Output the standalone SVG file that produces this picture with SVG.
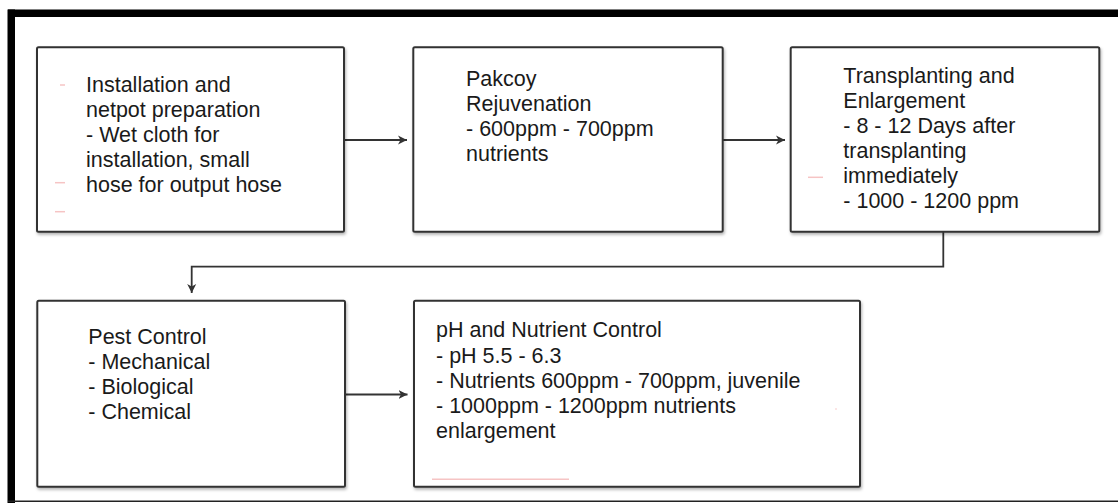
<svg xmlns="http://www.w3.org/2000/svg" width="1118" height="503" viewBox="0 0 1118 503">
  <style>
    .box { fill: #ffffff; stroke: #333333; stroke-width: 2; filter: url(#shadow); }
    .txt { font-family: "Liberation Sans", Arial, sans-serif; font-size: 21.5px; fill: #1a1a1a; }
    .conn { fill: none; stroke: #333333; stroke-width: 1.8; }
    .pink { stroke: #f6c4c4; stroke-width: 1.5; fill: none; }
  </style>
  <defs>
    <filter id="shadow" x="-5%" y="-5%" width="110%" height="115%">
      <feDropShadow dx="1" dy="2" stdDeviation="1.5" flood-color="#000000" flood-opacity="0.3"/>
    </filter>
    <marker id="arrow" markerWidth="10" markerHeight="10" refX="9" refY="5" orient="auto" markerUnits="userSpaceOnUse">
      <path d="M0,0.5 L9,5 L0,9.5 L2.5,5 Z" fill="#333333"/>
    </marker>
  </defs>
  <rect width="1118" height="503" fill="#ffffff"/>

  <g id="frame">
    <rect x="8" y="9.5" width="1110" height="7.5" fill="#000000"/>
    <rect x="7.5" y="9.5" width="7.5" height="493.5" fill="#000000"/>
    <line x1="8" y1="501.2" x2="1118" y2="501.2" stroke="#222222" stroke-width="1.6"/>
  </g>

  <g id="connectors">
    <line class="conn" x1="345" y1="140" x2="407" y2="140" marker-end="url(#arrow)"/>
    <line class="conn" x1="723" y1="140" x2="785" y2="140" marker-end="url(#arrow)"/>
    <polyline class="conn" points="943.3,232 943.3,266.7 191.7,266.7 191.7,293" marker-end="url(#arrow)"/>
    <line class="conn" x1="345" y1="394.5" x2="407.5" y2="394.5" marker-end="url(#arrow)"/>
  </g>

  <g id="node-installation">
    <rect class="box" x="37" y="47.3" width="307" height="184.5" rx="1.5"/>
    <line class="pink" x1="60" y1="85" x2="65" y2="85"/>
    <line class="pink" x1="55" y1="182.7" x2="65" y2="182.7"/>
    <line class="pink" x1="55" y1="211.7" x2="65" y2="211.7"/>
    <text class="txt" x="86" y="91.7">
      <tspan x="86" y="91.7">Installation and</tspan>
      <tspan x="86" y="116.7">netpot preparation</tspan>
      <tspan x="86" y="141.7">- Wet cloth for</tspan>
      <tspan x="86" y="166.7">installation, small</tspan>
      <tspan x="86" y="191.7">hose for output hose</tspan>
    </text>
  </g>

  <g id="node-rejuvenation">
    <rect class="box" x="413.3" y="47.3" width="309.4" height="184.5" rx="1.5"/>
    <text class="txt">
      <tspan x="466" y="86">Pakcoy</tspan>
      <tspan x="466" y="111">Rejuvenation</tspan>
      <tspan x="466" y="136">- 600ppm - 700ppm</tspan>
      <tspan x="466" y="161">nutrients</tspan>
    </text>
  </g>

  <g id="node-transplanting">
    <rect class="box" x="790.7" y="47.3" width="308.6" height="184.5" rx="1.5"/>
    <line class="pink" x1="808" y1="177.3" x2="823" y2="177.3"/>
    <text class="txt">
      <tspan x="843.3" y="82.7">Transplanting and</tspan>
      <tspan x="843.3" y="108">Enlargement</tspan>
      <tspan x="843.3" y="133.3">- 8 - 12 Days after</tspan>
      <tspan x="843.3" y="158.3">transplanting</tspan>
      <tspan x="843.3" y="183.3">immediately</tspan>
      <tspan x="843.3" y="208.3">- 1000 - 1200 ppm</tspan>
    </text>
  </g>

  <g id="node-pest">
    <rect class="box" x="37.3" y="300.7" width="307.7" height="186" rx="1.5"/>
    <text class="txt">
      <tspan x="88.3" y="344">Pest Control</tspan>
      <tspan x="88.3" y="369.3">- Mechanical</tspan>
      <tspan x="88.3" y="394.3">- Biological</tspan>
      <tspan x="88.3" y="419.3">- Chemical</tspan>
    </text>
  </g>

  <g id="node-ph">
    <rect class="box" x="414" y="300.7" width="446" height="186" rx="1.5"/>
    <line class="pink" x1="432" y1="479.3" x2="569" y2="479.3"/>
    <circle cx="836" cy="409" r="0.8" fill="#f6c4c4"/>
    <text class="txt">
      <tspan x="436" y="337.3">pH and Nutrient Control</tspan>
      <tspan x="436" y="362.7">- pH 5.5 - 6.3</tspan>
      <tspan x="436" y="387.7">- Nutrients 600ppm - 700ppm, juvenile</tspan>
      <tspan x="436" y="412.7">- 1000ppm - 1200ppm nutrients</tspan>
      <tspan x="436" y="437.7">enlargement</tspan>
    </text>
  </g>
</svg>
